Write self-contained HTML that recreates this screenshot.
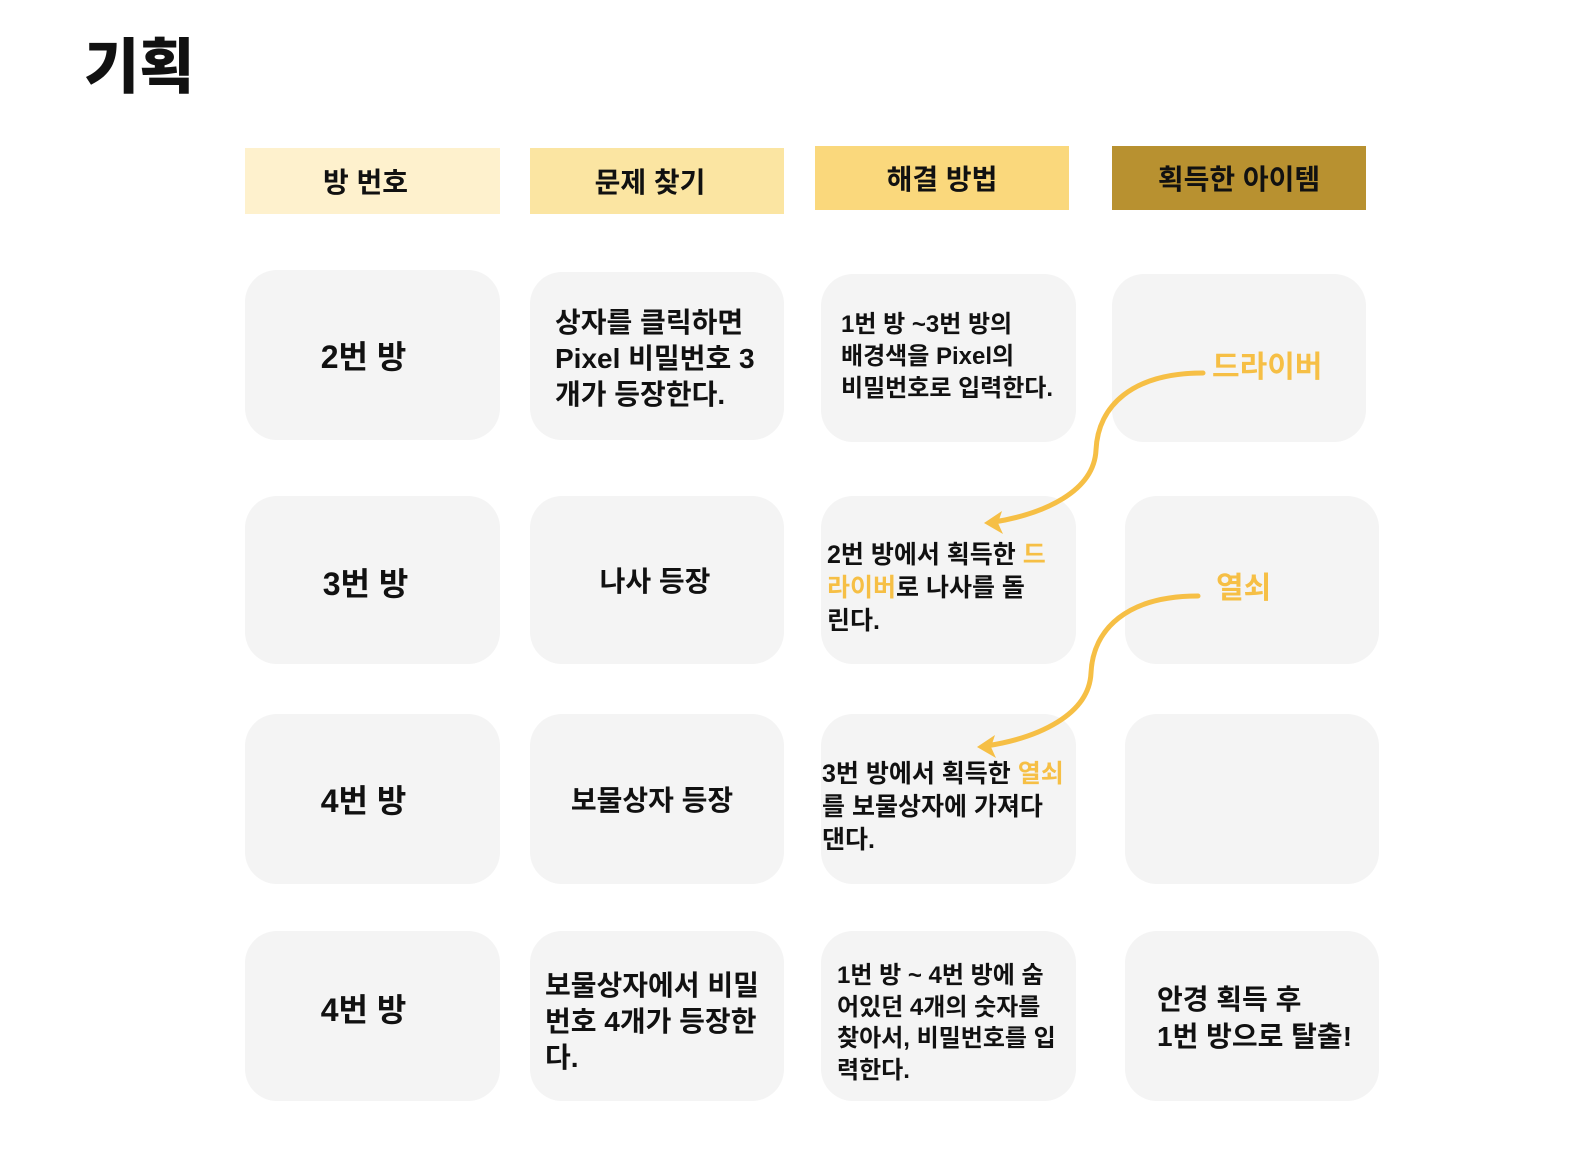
<!DOCTYPE html>
<html><head><meta charset="utf-8"><style>
body{margin:0;width:1596px;height:1166px;background:#fff;position:relative;overflow:hidden;font-family:"Liberation Sans","Noto Sans CJK KR",sans-serif;color:#111}
.a{position:absolute}
.h{position:absolute;display:flex;align-items:center;justify-content:center;font-size:28px;font-weight:700}
.c{position:absolute;background:#f4f4f4;border-radius:32px;box-sizing:border-box}
.cc{display:flex;align-items:center;justify-content:center;font-weight:700}
.t{position:absolute;font-weight:700;white-space:nowrap}
.o{color:#f6bf45}
</style></head><body>
<div class="t" style="left:84px;top:26px;font-size:60px;font-weight:900;line-height:84px">기획</div>

<div class="h" style="left:245px;top:148px;width:255px;height:66px;background:#fef1cd;padding-right:14px;box-sizing:border-box">방 번호</div>
<div class="h" style="left:530px;top:148px;width:254px;height:66px;background:#fbe5a2;padding-right:14px;box-sizing:border-box">문제 찾기</div>
<div class="h" style="left:815px;top:146px;width:254px;height:64px;background:#fad87c">해결 방법</div>
<div class="h" style="left:1112px;top:146px;width:254px;height:64px;background:#b89130">획득한 아이템</div>

<!-- row1 -->
<div class="c cc" style="left:245px;top:270px;width:255px;height:170px;font-size:32px;padding-right:18px">2번 방</div>
<div class="c" style="left:530px;top:272px;width:254px;height:168px"></div>
<div class="t" style="left:555px;top:305px;font-size:28px;line-height:36px">상자를 클릭하면<br>Pixel 비밀번호 3<br>개가 등장한다.</div>
<div class="c" style="left:821px;top:274px;width:255px;height:168px"></div>
<div class="t" style="left:841px;top:309px;font-size:24px;line-height:32px">1번 방 ~3번 방의<br>배경색을 Pixel의<br>비밀번호로 입력한다.</div>
<div class="c" style="left:1112px;top:274px;width:254px;height:168px"></div>
<div class="t o" style="left:1212px;top:348px;font-size:30px;line-height:40px">드라이버</div>

<!-- row2 -->
<div class="c cc" style="left:245px;top:496px;width:255px;height:168px;font-size:32px;padding:4px 14px 0 0">3번 방</div>
<div class="c cc" style="left:530px;top:496px;width:254px;height:168px;font-size:28px;padding:0 4px 0 0">나사 등장</div>
<div class="c" style="left:821px;top:496px;width:255px;height:168px"></div>
<div class="t" style="left:827px;top:539px;font-size:25px;line-height:33px">2번 방에서 획득한 <span class="o">드</span><br><span class="o">라이버</span>로 나사를 돌<br>린다.</div>
<div class="c" style="left:1125px;top:496px;width:254px;height:168px"></div>
<div class="t o" style="left:1216px;top:569px;font-size:30px;line-height:40px">열쇠</div>

<!-- row3 -->
<div class="c cc" style="left:245px;top:714px;width:255px;height:170px;font-size:32px;padding-right:18px">4번 방</div>
<div class="c cc" style="left:530px;top:714px;width:254px;height:170px;font-size:28px;padding-right:10px">보물상자 등장</div>
<div class="c" style="left:821px;top:714px;width:255px;height:170px"></div>
<div class="t" style="left:822px;top:758px;font-size:25px;line-height:33px">3번 방에서 획득한 <span class="o">열쇠</span><br>를 보물상자에 가져다<br>댄다.</div>
<div class="c" style="left:1125px;top:714px;width:254px;height:170px"></div>

<!-- row4 -->
<div class="c cc" style="left:245px;top:931px;width:255px;height:170px;font-size:32px;padding:0 18px 16px 0">4번 방</div>
<div class="c" style="left:530px;top:931px;width:254px;height:170px"></div>
<div class="t" style="left:545px;top:968px;font-size:28px;line-height:36px">보물상자에서 비밀<br>번호 4개가 등장한<br>다.</div>
<div class="c" style="left:821px;top:931px;width:255px;height:170px"></div>
<div class="t" style="left:837px;top:960px;font-size:24px;line-height:31.5px">1번 방 ~ 4번 방에 숨<br>어있던 4개의 숫자를<br>찾아서, 비밀번호를 입<br>력한다.</div>
<div class="c" style="left:1125px;top:931px;width:254px;height:170px"></div>
<div class="t" style="left:1157px;top:981px;font-size:28px;line-height:37px">안경 획득 후<br>1번 방으로 탈출!</div>

<svg class="a" style="left:0;top:0" width="1596" height="1166">
<g fill="none" stroke="#f6bf45" stroke-width="5" stroke-linecap="round">
<path d="M1203 373 C1132 373,1098 406,1096 450 C1094 492,1043 514,994 522"/>
<path d="M1198 596 C1127 596,1093 629,1091 673 C1089 715,1038 738,986 746"/>
</g>
<g fill="#f6bf45">
<polygon points="984,523 1002,511 998,523 1003,534"/>
<polygon points="977,747 995,735 991,747 996,758"/>
</g>
</svg>
</body></html>
